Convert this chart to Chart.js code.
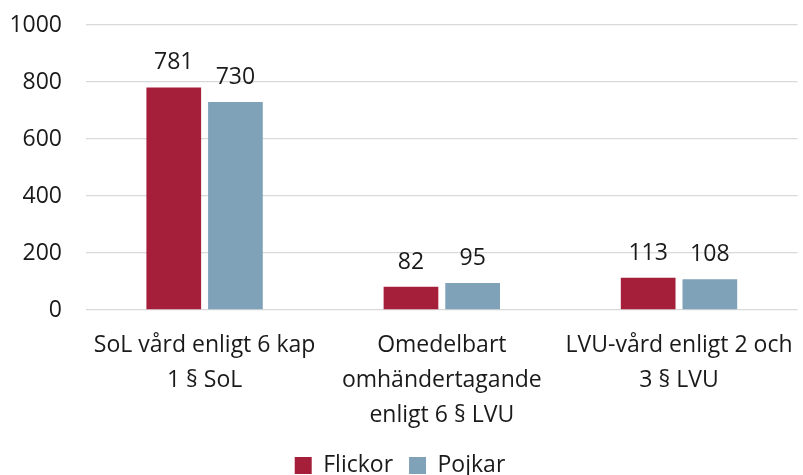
<!DOCTYPE html>
<html>
<head>
<meta charset="utf-8">
<script src="https://cdn.jsdelivr.net/npm/chart.js@4"></script>
<style>
  html, body { margin: 0; padding: 0; background: #fff; }
  #wrap { width: 803px; height: 475px; }
</style>
</head>
<body>
<div id="wrap"><canvas id="chart"></canvas></div>
<script>
// ─── Data ────────────────────────────────────────────────────
const categories = [
  ["SoL vård enligt 6 kap", "1 § SoL"],
  ["Omedelbart", "omhändertagande", "enligt 6 § LVU"],
  ["LVU-vård enligt 2 och", "3 § LVU"],
];
const flickor = [781, 82, 113];
const pojkar = [730, 95, 108];
const yTicks = [0, 200, 400, 600, 800, 1000];

const RED = "#A51F3B";
const BLUE = "#7FA2B9";
const TEXT = "#1a1a1a";
const FONT = "'Open Sans', Lato, sans-serif";
const SIZE = 23;

// ─── Value labels above bars ─────────────────────────────────
const valueLabels = {
  id: "valueLabels",
  afterDatasetsDraw(chart) {
    const { ctx } = chart;
    ctx.save();
    ctx.font = `${SIZE}px ${FONT}`;
    ctx.fillStyle = TEXT;
    ctx.textAlign = "center";
    ctx.textBaseline = "alphabetic";
    chart.data.datasets.forEach((ds, i) => {
      chart.getDatasetMeta(i).data.forEach((bar, j) => {
        ctx.fillText(ds.data[j], bar.x, bar.y - 18);
      });
    });
    ctx.restore();
  }
};

new Chart(document.getElementById("chart"), {
  type: "bar",
  data: {
    labels: categories,
    datasets: [
      { label: "Flickor", data: flickor, backgroundColor: RED },
      { label: "Pojkar", data: pojkar, backgroundColor: BLUE },
    ]
  },
  plugins: [valueLabels],
  options: {
    responsive: true,
    maintainAspectRatio: false,
    animation: false,
    categoryPercentage: 0.52,
    barPercentage: 0.887,
    layout: { padding: { top: 25, right: 3, left: 0, bottom: -12 } },
    plugins: {
      legend: {
        position: "bottom",
        labels: {
          color: TEXT,
          boxWidth: 17,
          boxHeight: 17,
          padding: 16,
          font: { family: FONT, size: SIZE, lineHeight: 1 },
        }
      },
      tooltip: { enabled: false },
    },
    scales: {
      x: {
        grid: { display: false },
        border: { display: false },
        ticks: {
          color: TEXT,
          maxRotation: 0,
          autoSkip: false,
          padding: 10,
          font: { family: FONT, size: SIZE, lineHeight: 1.52 },
        },
        afterFit: s => { s.height = 128; },
      },
      y: {
        min: 0,
        max: 1000,
        afterBuildTicks: s => { s.ticks = yTicks.map(v => ({ value: v })); },
        grid: { color: "#d9d9d9", lineWidth: 1.3, drawTicks: false },
        border: { display: false },
        ticks: {
          color: TEXT,
          padding: 24,
          font: { family: FONT, size: SIZE },
          callback: v => String(v),
        },
        afterFit: s => { s.width = 86; s.paddingTop = 0; s.paddingBottom = 0; },
      }
    }
  }
});
</script>
</body>
</html>
